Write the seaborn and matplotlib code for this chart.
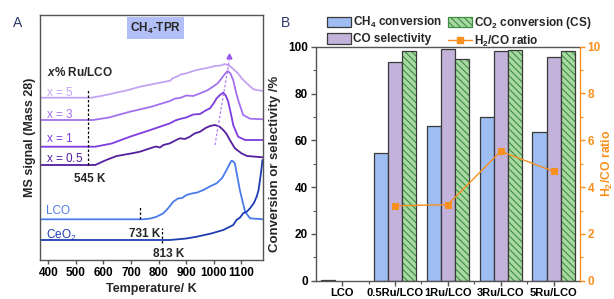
import numpy as np
import pandas as pd
import matplotlib
matplotlib.use('Agg')
import matplotlib.pyplot as plt
import seaborn as sns
from matplotlib.patches import Patch, Rectangle
from matplotlib.lines import Line2D
from matplotlib.ticker import MultipleLocator, FixedLocator

# ---------------- Panel A: CH4-TPR (MS signal, Mass 28, arbitrary units) -------------
t_x5 = [370, 557, 600, 636, 690, 732, 790, 841, 852, 865, 880, 901, 925, 950, 975, 1004, 1025, 1040, 1058, 1072, 1087, 1103, 1119, 1142, 1155, 1178]
s_x5 = [162.3, 162.3, 164.5, 166.7, 170.0, 173.3, 176.5, 179.3, 182.0, 183.3, 185.5, 186.7, 189.0, 190.7, 192.0, 194.0, 194.5, 196.0, 194.0, 190.5, 186.7, 181.0, 176.7, 171.0, 170.0, 169.0]

t_x3 = [370, 562, 620, 696, 770, 841, 860, 877, 900, 925, 950, 975, 997, 1015, 1028, 1040, 1050, 1060, 1070, 1080, 1088, 1106, 1131, 1178]
s_x3 = [140.0, 140.0, 142.5, 148.3, 153.0, 159.0, 161.5, 162.0, 164.5, 164.0, 166.7, 169.5, 173.3, 177.0, 181.7, 186.0, 189.0, 186.5, 180.0, 168.0, 160.0, 145.0, 141.3, 140.7]

t_x1 = [370, 570, 630, 696, 770, 841, 860, 877, 900, 925, 950, 970, 986, 1000, 1010, 1022, 1034, 1044, 1052, 1062, 1070, 1088, 1113, 1178]
s_x1 = [113.3, 113.3, 116.5, 123.3, 130.0, 136.7, 139.5, 141.0, 142.5, 145.5, 146.0, 149.5, 151.7, 157.0, 161.7, 165.0, 167.3, 164.0, 158.3, 146.0, 135.0, 123.3, 120.0, 120.0]

t_x05 = [370, 570, 610, 648, 700, 732, 769, 790, 805, 817, 841, 860, 877, 895, 913, 930, 950, 970, 986, 1004, 1020, 1034, 1046, 1058, 1076, 1100, 1120, 1178]
s_x05 = [95.0, 95.0, 100.0, 104.0, 106.5, 108.3, 111.7, 113.5, 112.5, 115.0, 116.7, 119.5, 121.7, 121.0, 123.3, 126.5, 128.3, 132.0, 134.0, 135.0, 133.5, 130.0, 126.0, 120.0, 111.7, 106.7, 104.0, 102.7]

t_lco = [370, 744, 770, 790, 817, 835, 853, 870, 885, 901, 920, 940, 962, 985, 1010, 1030, 1046, 1056, 1064, 1070, 1076, 1094, 1113, 1131, 1178]
s_lco = [40.7, 40.7, 41.5, 43.0, 46.7, 52.0, 58.3, 61.5, 62.0, 65.0, 66.5, 67.5, 70.0, 73.5, 76.7, 82.0, 90.0, 95.5, 99.3, 98.5, 96.7, 70.0, 48.3, 41.7, 40.7]

t_ceo2 = [370, 841, 900, 938, 990, 1034, 1070, 1082, 1095, 1106, 1120, 1131, 1145, 1155, 1162, 1167, 1172, 1176]
s_ceo2 = [20.0, 20.0, 21.5, 23.3, 26.5, 30.0, 35.0, 40.0, 42.5, 46.7, 48.5, 51.7, 57.0, 63.3, 70.0, 80.0, 90.0, 100.0]

curve_labels = ['$x$ = 5', '$x$ = 3', '$x$ = 1', '$x$ = 0.5', 'LCO', 'CeO$_2$']
onset_temps = [545, 731, 813]

# ---------------- Panel B: catalytic performance ---------------------------------------
categories = ['LCO', '0.5Ru/LCO', '1Ru/LCO', '3Ru/LCO', '5Ru/LCO']
ch4_conversion = [0.3, 54.7, 66.2, 69.9, 63.7]
co_selectivity = [np.nan, 93.6, 99.1, 98.3, 95.5]
co2_conversion = [np.nan, 98.3, 94.7, 98.7, 98.3]
h2_co_ratio = [np.nan, 3.2, 3.25, 5.53, 4.67]
series_names = ['CH$_\\mathbf{4}$ conversion', 'CO selectivity', 'CO$_\\mathbf{2}$ conversion (CS)']

# ---------------- style ----------------
sns.set_theme(style='ticks')
plt.rcParams['font.family'] = ['Liberation Sans', 'DejaVu Sans']
plt.rcParams['mathtext.fontset'] = 'custom'
plt.rcParams['mathtext.rm'] = 'Liberation Sans:style=normal:weight=normal'
plt.rcParams['mathtext.it'] = 'Liberation Sans:style=italic:weight=normal'
plt.rcParams['mathtext.bf'] = 'Liberation Sans:style=normal:weight=bold'
try:
    plt.rcParams['mathtext.bfit'] = 'Liberation Sans:style=italic:weight=bold'
except KeyError:
    pass
plt.rcParams['mathtext.default'] = 'rm'
plt.rcParams['hatch.linewidth'] = 0.8
plt.rcParams['axes.linewidth'] = 1.0

FS = 8.5
edge_gray = '#555555'
orange = '#F7901E'
curve_colors = ['#C4A2F2', '#A270EC', '#7C3CDF', '#531F9E', '#4A7BEA', '#1F3DB2']

fig = plt.figure(figsize=(6.14, 2.99), dpi=100)
axA = fig.add_axes([40 / 614, 39 / 299, 223 / 614, 245 / 299])
axB = fig.add_axes([315.7 / 614, 18.3 / 299, 264.3 / 614, 234 / 299])

# ---------------- Panel A drawing ----------------
curves = [(t_x5, s_x5), (t_x3, s_x3), (t_x1, s_x1), (t_x05, s_x05), (t_lco, s_lco), (t_ceo2, s_ceo2)]
for (tt, ss), c in zip(curves, curve_colors):
    sns.lineplot(x=tt, y=ss, ax=axA, color=c, linewidth=1.3, estimator=None, sort=False)

axA.set_xlim(370, 1178)
axA.set_ylim(0, 245)
axA.set_yticks([])
axA.xaxis.set_major_locator(MultipleLocator(100))
axA.tick_params(axis='x', direction='out', length=3, width=1, colors=edge_gray, labelcolor='black', labelsize=FS, pad=2)
for lbl in axA.get_xticklabels():
    lbl.set_fontweight('bold')
for sp in axA.spines.values():
    sp.set_color(edge_gray)
    sp.set_visible(True)
axA.set_xlabel('Temperature/ K', fontsize=9, fontweight='bold', labelpad=3)
axA.set_ylabel('MS signal (Mass 28)', fontsize=9, fontweight='bold', labelpad=3)

label_y = [167.3, 145, 121, 101, 49, 25]
for txt, yy, c in zip(curve_labels, label_y, curve_colors):
    axA.text(392, yy, txt, color=c, fontsize=FS, ha='left', va='center')
axA.text(394, 187.7, '$\\mathbfit{x}$% Ru/LCO', fontsize=FS, fontweight='bold', ha='left', va='center')

dash = (0, (2, 1.6))
axA.plot([onset_temps[0]] * 2, [95, 170], color='black', lw=0.9, ls=dash)
axA.plot([onset_temps[1]] * 2, [41, 54], color='black', lw=0.9, ls=dash)
axA.plot([onset_temps[2]] * 2, [17, 32], color='black', lw=0.9, ls=dash)
axA.text(550, 81, f'{onset_temps[0]} K', fontsize=FS, fontweight='bold', ha='center', va='center')
axA.text(750, 26.3, f'{onset_temps[1]} K', fontsize=FS, fontweight='bold', ha='center', va='center')
axA.text(837, 6, f'{onset_temps[2]} K', fontsize=FS, fontweight='bold', ha='center', va='center')

axA.plot([1004, 1056], [115, 200], color='#B07CF2', lw=0.9, ls=dash)
axA.plot([1056], [204], marker='^', color='#9A55EE', markersize=3.5)

axA.text(790, 232, 'CH$_\\mathbf{4}$-TPR', fontsize=FS, fontweight='bold', ha='center', va='center',
         bbox=dict(boxstyle='square,pad=0.25', facecolor='#B3BFF7', edgecolor='none'))

# ---------------- Panel B drawing ----------------
df = pd.DataFrame({
    'cat': categories * 3,
    'series': [series_names[0]] * 5 + [series_names[1]] * 5 + [series_names[2]] * 5,
    'val': ch4_conversion + co_selectivity + co2_conversion,
})
bar_colors = ['#9DBDF3', '#C3B2DA', '#A9D9A2']
hatch_green = '#3E8E45'
bar_edge = '#3A3A3A'
sns.barplot(data=df, x='cat', y='val', hue='series', order=categories, hue_order=series_names,
            palette=dict(zip(series_names, bar_colors)), saturation=1, edgecolor=bar_edge,
            linewidth=0.9, width=0.8, legend=False, errorbar=None, ax=axB)

for p in axB.containers[2]:
    h = p.get_height()
    if not np.isfinite(h):
        continue
    p.set_hatch('\\' * 5)
    p.set_edgecolor(hatch_green)
    p.set_linewidth(0)
    axB.add_patch(Rectangle((p.get_x(), p.get_y()), p.get_width(), h, fill=False,
                            edgecolor=bar_edge, linewidth=0.9, zorder=p.get_zorder() + 0.1))

axB.set_ylim(0, 100)
axB.set_xlim(-0.5, 4.5)
axB.yaxis.set_major_locator(MultipleLocator(20))
axB.yaxis.set_minor_locator(MultipleLocator(10))
axB.xaxis.set_minor_locator(FixedLocator([0.5, 1.5, 2.5, 3.5]))
axB.tick_params(axis='both', which='major', direction='out', length=3.5, width=1, colors=edge_gray,
                labelcolor='black', labelsize=FS, pad=2)
axB.tick_params(axis='x', which='major', labelsize=8)
axB.tick_params(axis='both', which='minor', direction='out', length=2, width=0.8, colors=edge_gray)
for lbl in axB.get_xticklabels() + axB.get_yticklabels():
    lbl.set_fontweight('bold')
axB.set_xlabel('')
axB.set_ylabel('Conversion or selectivity /%', fontsize=9.5, fontweight='bold', labelpad=5)
for name, sp in axB.spines.items():
    sp.set_color(edge_gray)
    sp.set_visible(name != 'right')

ax2 = axB.twinx()
sns.pointplot(x=categories, y=h2_co_ratio, order=categories, ax=ax2, color=orange, markers='s',
              linestyles='-', markersize=5, linewidth=1, errorbar=None)
ax2.set_ylim(0, 10)
axB.set_xlim(-0.5, 4.5)
ax2.yaxis.set_major_locator(MultipleLocator(2))
ax2.yaxis.set_minor_locator(MultipleLocator(1))
ax2.tick_params(axis='y', which='major', direction='out', length=3.5, width=1, colors=orange,
                labelcolor=orange, labelsize=FS, pad=2)
ax2.tick_params(axis='y', which='minor', direction='out', length=2, width=0.8, colors=orange)
for lbl in ax2.get_yticklabels():
    lbl.set_fontweight('bold')
ax2.set_ylabel('H$_\\mathbf{2}$/CO ratio', fontsize=8.8, fontweight='bold', color=orange)
ax2.yaxis.set_label_coords((600 - 315.7) / 264.3, 0.5)
for name, sp in ax2.spines.items():
    if name == 'right':
        sp.set_color(orange)
        sp.set_visible(True)
    else:
        sp.set_visible(False)

handles = [
    Patch(facecolor=bar_colors[0], edgecolor=bar_edge, linewidth=0.9),
    Patch(facecolor=bar_colors[1], edgecolor=bar_edge, linewidth=0.9),
    Patch(facecolor=bar_colors[2], edgecolor=hatch_green, hatch='\\' * 5, linewidth=0.9),
    Line2D([], [], color=orange, marker='s', markersize=5, linewidth=1),
]
labels = [series_names[0], series_names[1], series_names[2], 'H$_\\mathbf{2}$/CO ratio']
fig.legend(handles, labels, ncol=2, loc='upper left', bbox_to_anchor=(327 / 614, 1 - 15 / 299),
           frameon=False, prop={'weight': 'bold', 'size': FS}, handlelength=2.0, handleheight=1.0,
           handletextpad=0.2, columnspacing=0.5, labelspacing=0.25, borderpad=0, borderaxespad=0)

fig.text(18 / 614, 1 - 22.7 / 299, 'A', fontsize=10, color='#2B3A67', ha='center', va='center')
fig.text(285 / 614, 1 - 22.7 / 299, 'B', fontsize=10, color='#2B3A67', ha='center', va='center')

fig.savefig('out.png', dpi=100)
